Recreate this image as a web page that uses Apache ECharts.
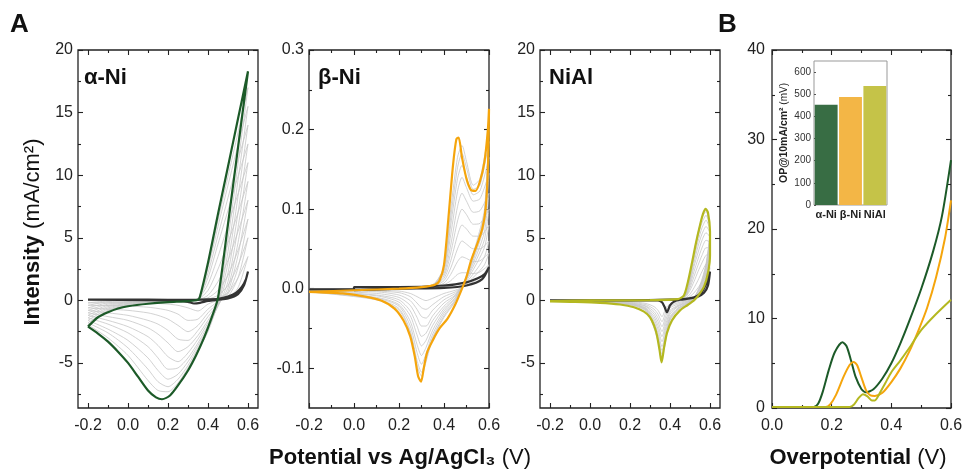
<!DOCTYPE html>
<html>
<head>
<meta charset="utf-8">
<script src="https://cdn.jsdelivr.net/npm/echarts@6/dist/echarts.min.js"></script>
<style>html,body{margin:0;padding:0;background:#fff}#c{width:967px;height:472px}</style>
</head>
<body>
<div id="c"></div>
<script>
// ---------------- DATA ----------------
// Panel A1: alpha-Ni
const xF1 = [-0.2,-0.1,0.0,0.1,0.2,0.3,0.35,0.4,0.45,0.5,0.55,0.6];
const xR1 = [0.6,0.55,0.5,0.45,0.4,0.35,0.3,0.25,0.2,0.15,0.1,0.0,-0.1,-0.2];
const alphaGrayF = [
  [-0.2,-0.05,0,0,0,0,0,0.05,0.2,0.6,1.8,3.5],
  [-0.4,-0.1,-0.05,0,0,0,0.02,0.1,0.4,1.2,2.8,5.0],
  [-0.6,-0.2,-0.1,-0.05,0,0,0.05,0.2,0.8,2.0,4.0,6.5],
  [-0.8,-0.3,-0.15,-0.08,-0.03,0,0.05,0.4,1.5,3.2,5.5,8.0],
  [-1.0,-0.4,-0.2,-0.1,-0.05,0,0.08,0.8,2.5,4.6,7.0,9.5],
  [-1.2,-0.5,-0.25,-0.12,-0.06,-0.02,0.1,1.3,3.5,6.0,8.5,11.0],
  [-1.4,-0.6,-0.3,-0.15,-0.07,-0.03,0.1,1.8,4.5,7.2,9.9,12.5],
  [-1.6,-0.7,-0.35,-0.18,-0.08,-0.04,0.1,2.2,5.2,8.2,11.2,14.0],
  [-1.8,-0.8,-0.4,-0.2,-0.1,-0.04,0.1,2.6,5.9,9.2,12.4,15.5],
  [-1.95,-0.85,-0.42,-0.22,-0.11,-0.05,0.1,2.8,6.4,9.9,13.4,17.0]
];
const alphaGrayR = [
  [3.5,1.0,0.2,0.0,-0.3,-0.85,-0.6,-0.4,-0.3,-0.25,-0.22,-0.2,-0.2,-0.2],
  [5.0,1.8,0.3,-0.1,-0.7,-1.5,-1.6,-1.1,-0.8,-0.65,-0.55,-0.45,-0.42,-0.4],
  [6.5,2.6,0.5,-0.2,-1.0,-2.0,-2.5,-2.0,-1.5,-1.2,-1.0,-0.8,-0.7,-0.6],
  [8.0,3.6,0.7,-0.3,-1.3,-2.4,-3.2,-3.1,-2.4,-1.9,-1.6,-1.2,-1.0,-0.8],
  [9.5,4.6,1.0,-0.4,-1.6,-2.8,-3.7,-4.1,-3.4,-2.7,-2.2,-1.6,-1.3,-1.0],
  [11.0,5.8,1.5,-0.5,-1.8,-3.1,-4.2,-4.9,-4.5,-3.6,-2.9,-2.1,-1.6,-1.2],
  [12.5,7.0,2.2,-0.4,-2.0,-3.4,-4.6,-5.4,-5.5,-4.6,-3.7,-2.6,-1.9,-1.4],
  [14.0,8.3,3.0,-0.3,-2.2,-3.6,-4.9,-5.9,-6.3,-5.6,-4.6,-3.2,-2.3,-1.6],
  [15.5,9.6,3.9,-0.2,-2.3,-3.8,-5.2,-6.3,-6.9,-6.5,-5.5,-3.8,-2.6,-1.8],
  [17.0,10.9,4.9,-0.1,-2.5,-4.0,-5.4,-6.6,-7.3,-7.2,-6.4,-4.4,-3.0,-1.95]
];
const alphaFirst = [[-0.2,0.05],[0.1,0.05],[0.3,0.04],[0.4,0.08],[0.45,0.12],[0.5,0.3],[0.54,0.6],[0.57,1.1],[0.59,1.7],[0.6,2.3],[0.58,1.2],[0.55,0.5],[0.5,0.15],[0.45,0.05],[0.4,-0.05],[0.36,-0.2],[0.33,-0.25],[0.3,-0.12],[0.25,-0.02],[0.1,0.02],[-0.2,0.05]];
const alphaLast = [[-0.2,-2.1],[-0.15,-1.35],[-0.1,-0.95],[-0.05,-0.65],[0,-0.47],[0.1,-0.27],[0.2,-0.14],[0.3,-0.06],[0.35,0.05],[0.36,0.3],[0.4,3.0],[0.45,6.9],[0.5,10.7],[0.55,14.5],[0.6,18.3],[0.55,12.2],[0.5,6.1],[0.45,0.2],[0.42,-1.3],[0.38,-3.0],[0.34,-4.4],[0.3,-5.6],[0.25,-6.8],[0.21,-7.6],[0.17,-7.9],[0.14,-7.75],[0.1,-7.2],[0.05,-6.1],[0,-5.0],[-0.05,-4.1],[-0.1,-3.3],[-0.15,-2.65],[-0.2,-2.1]];

// Panel A2: beta-Ni
const xF2 = [-0.2,0.0,0.2,0.35,0.4,0.43,0.46,0.48,0.5,0.53,0.56,0.6];
const xR2 = [0.6,0.58,0.55,0.5,0.45,0.4,0.35,0.32,0.3,0.28,0.25,0.2,0.1,-0.2];
const betaGrayF = [
  [0,0,0,0.002,0.005,0.01,0.018,0.02,0.02,0.019,0.021,0.03],
  [0,0,0,0.002,0.007,0.018,0.034,0.04,0.038,0.034,0.035,0.045],
  [0,0,0,0.003,0.01,0.026,0.05,0.06,0.056,0.05,0.05,0.06],
  [-0.001,0,0,0.003,0.013,0.035,0.067,0.08,0.075,0.066,0.066,0.08],
  [-0.002,-0.001,0,0.003,0.016,0.045,0.085,0.1,0.093,0.081,0.082,0.1],
  [-0.002,-0.001,0,0.004,0.019,0.055,0.103,0.12,0.11,0.096,0.098,0.12],
  [-0.003,-0.001,0,0.004,0.022,0.068,0.122,0.14,0.127,0.11,0.113,0.145],
  [-0.003,-0.002,0,0.004,0.025,0.08,0.138,0.155,0.14,0.118,0.123,0.165],
  [-0.003,-0.002,0,0.005,0.027,0.09,0.152,0.17,0.152,0.125,0.13,0.185],
  [-0.004,-0.002,0,0.005,0.028,0.1,0.165,0.18,0.16,0.13,0.138,0.2]
];
const betaGrayR = [
  [0.03,0.02,0.012,0.004,-0.002,-0.006,-0.012,-0.015,-0.013,-0.01,-0.006,-0.003,-0.002,-0.001],
  [0.045,0.03,0.02,0.006,-0.004,-0.01,-0.02,-0.026,-0.024,-0.018,-0.01,-0.005,-0.003,-0.001],
  [0.06,0.04,0.026,0.008,-0.006,-0.014,-0.027,-0.037,-0.035,-0.026,-0.015,-0.008,-0.004,-0.002],
  [0.08,0.052,0.034,0.01,-0.008,-0.018,-0.034,-0.047,-0.047,-0.036,-0.021,-0.011,-0.006,-0.002],
  [0.1,0.062,0.04,0.012,-0.009,-0.022,-0.04,-0.056,-0.06,-0.047,-0.028,-0.014,-0.008,-0.002],
  [0.12,0.072,0.046,0.013,-0.011,-0.025,-0.046,-0.065,-0.072,-0.058,-0.034,-0.017,-0.009,-0.003],
  [0.145,0.082,0.052,0.014,-0.012,-0.028,-0.052,-0.074,-0.084,-0.07,-0.041,-0.02,-0.011,-0.003],
  [0.165,0.09,0.056,0.015,-0.014,-0.031,-0.057,-0.082,-0.095,-0.08,-0.047,-0.022,-0.012,-0.003],
  [0.185,0.095,0.06,0.016,-0.015,-0.034,-0.061,-0.088,-0.105,-0.09,-0.053,-0.025,-0.013,-0.004],
  [0.2,0.1,0.064,0.017,-0.016,-0.036,-0.063,-0.092,-0.11,-0.096,-0.056,-0.027,-0.014,-0.004]
];
const betaFirst = [[-0.2,-0.001],[0.0,-0.001],[0.0,0.002],[0.2,0.002],[0.4,0.004],[0.5,0.008],[0.55,0.013],[0.58,0.018],[0.6,0.027],[0.57,0.012],[0.5,0.004],[0.4,0.001],[0.2,0.0],[0.0,-0.002]];
const betaLast = [[-0.2,-0.004],[0.0,-0.002],[0.2,0.0],[0.3,0.002],[0.36,0.005],[0.38,0.01],[0.4,0.03],[0.42,0.09],[0.44,0.155],[0.455,0.188],[0.465,0.19],[0.48,0.165],[0.5,0.138],[0.52,0.124],[0.54,0.123],[0.56,0.135],[0.58,0.16],[0.595,0.2],[0.6,0.226],[0.595,0.15],[0.585,0.1],[0.57,0.075],[0.55,0.058],[0.52,0.035],[0.5,0.015],[0.48,0.0],[0.45,-0.02],[0.415,-0.038],[0.38,-0.05],[0.35,-0.065],[0.325,-0.08],[0.31,-0.1],[0.298,-0.117],[0.285,-0.11],[0.27,-0.085],[0.25,-0.06],[0.22,-0.04],[0.18,-0.025],[0.12,-0.015],[0.05,-0.01],[-0.05,-0.006],[-0.2,-0.004]];

// Panel A3: NiAl
const xF3 = [-0.2,0.0,0.3,0.45,0.48,0.5,0.52,0.54,0.56,0.58,0.6];
const xR3 = [0.6,0.58,0.55,0.52,0.48,0.44,0.4,0.38,0.36,0.34,0.32,0.28,0.2,0.0,-0.2];
const nialGrayF = [
  [0,0,0,0.05,0.15,0.3,0.6,1.0,1.5,2.1,2.6],
  [0,0,0,0.05,0.2,0.5,1.0,1.6,2.3,2.9,3.2],
  [0,0,0,0.07,0.3,0.8,1.5,2.3,3.0,3.6,3.7],
  [-0.02,0,0,0.08,0.35,1.0,1.9,2.8,3.6,4.2,4.2],
  [-0.03,0,0.01,0.08,0.4,1.2,2.3,3.3,4.2,4.8,4.6],
  [-0.03,0,0.01,0.09,0.45,1.4,2.7,3.8,4.8,5.4,5.0],
  [-0.04,0,0.01,0.09,0.45,1.6,3.0,4.3,5.3,5.9,5.3],
  [-0.04,-0.01,0.01,0.1,0.48,1.7,3.3,4.7,5.8,6.4,5.5],
  [-0.05,-0.01,0.02,0.1,0.5,1.8,3.6,5.1,6.2,6.8,5.6],
  [-0.05,-0.01,0.02,0.1,0.5,1.9,3.8,5.4,6.6,7.1,5.6]
];
const nialGrayR = [
  [2.6,1.0,0.3,0.1,0,-0.1,-0.3,-0.6,-1.3,-0.8,-0.5,-0.25,-0.1,-0.03,0],
  [3.2,1.3,0.4,0.1,-0.05,-0.2,-0.45,-0.9,-1.7,-1.1,-0.7,-0.35,-0.15,-0.05,0],
  [3.7,1.6,0.5,0.1,-0.1,-0.3,-0.6,-1.2,-2.1,-1.4,-0.9,-0.45,-0.2,-0.06,-0.02],
  [4.2,1.9,0.6,0.1,-0.15,-0.4,-0.8,-1.5,-2.5,-1.7,-1.1,-0.5,-0.22,-0.08,-0.03],
  [4.6,2.1,0.7,0.1,-0.2,-0.45,-0.95,-1.8,-2.9,-2.0,-1.3,-0.6,-0.25,-0.1,-0.03],
  [5.0,2.3,0.8,0.15,-0.25,-0.5,-1.1,-2.1,-3.3,-2.3,-1.5,-0.65,-0.28,-0.12,-0.04],
  [5.3,2.5,0.9,0.15,-0.3,-0.6,-1.3,-2.4,-3.7,-2.6,-1.7,-0.7,-0.3,-0.13,-0.04],
  [5.5,2.7,1.0,0.2,-0.3,-0.65,-1.4,-2.7,-4.0,-2.9,-1.9,-0.75,-0.32,-0.15,-0.05],
  [5.6,2.8,1.1,0.2,-0.35,-0.7,-1.5,-2.9,-4.3,-3.1,-2.1,-0.8,-0.34,-0.16,-0.05],
  [5.6,2.9,1.2,0.2,-0.4,-0.75,-1.6,-3.1,-4.6,-3.3,-2.2,-0.85,-0.36,-0.17,-0.05]
];
const nialFirst = [[-0.2,0.0],[0.2,0.0],[0.4,0.05],[0.48,0.12],[0.53,0.3],[0.56,0.7],[0.58,1.3],[0.6,2.3],[0.59,1.2],[0.57,0.6],[0.54,0.3],[0.5,0.15],[0.45,0.05],[0.42,-0.1],[0.4,-0.4],[0.385,-0.95],[0.372,-0.5],[0.36,-0.15],[0.34,0.0],[0.2,0.0],[-0.2,0.0]];
const nialLast = [[-0.2,-0.05],[0.0,-0.01],[0.3,0.02],[0.44,0.1],[0.47,0.4],[0.49,1.5],[0.51,3.0],[0.53,4.6],[0.55,6.0],[0.565,6.9],[0.578,7.3],[0.59,7.0],[0.6,5.5],[0.6,3.6],[0.59,2.2],[0.57,1.1],[0.54,0.35],[0.52,0.0],[0.49,-0.35],[0.45,-0.8],[0.41,-1.6],[0.385,-2.6],[0.37,-3.8],[0.358,-4.95],[0.348,-4.0],[0.335,-2.8],[0.32,-2.0],[0.3,-1.35],[0.27,-0.9],[0.22,-0.55],[0.15,-0.33],[0.05,-0.2],[-0.1,-0.12],[-0.2,-0.08]];

// Panel B: overpotential curves
const lsvAlpha = [[0,0.1],[0.14,0.1],[0.155,0.5],[0.17,1.8],[0.19,4.2],[0.21,6.2],[0.236,7.35],[0.25,6.9],[0.265,5.3],[0.28,3.5],[0.3,2.1],[0.315,1.75],[0.34,2.1],[0.37,3.3],[0.4,5.0],[0.43,7.2],[0.46,9.7],[0.5,13.3],[0.54,17.5],[0.57,21.5],[0.6,27.7]];
const lsvBeta = [[0,0.1],[0.18,0.1],[0.195,0.4],[0.215,1.5],[0.24,3.5],[0.26,4.8],[0.273,5.15],[0.285,4.8],[0.3,3.4],[0.315,2.0],[0.33,1.4],[0.345,1.35],[0.37,1.7],[0.4,2.9],[0.43,4.4],[0.46,6.3],[0.49,8.6],[0.52,11.2],[0.55,14.6],[0.58,19.0],[0.6,23.2]];
const lsvNiAl = [[0,0.1],[0.26,0.1],[0.275,0.4],[0.29,1.1],[0.305,1.55],[0.32,1.3],[0.335,0.85],[0.345,0.85],[0.36,1.6],[0.38,2.8],[0.4,4.0],[0.43,5.3],[0.46,6.7],[0.5,8.7],[0.55,10.5],[0.6,12.1]];

// Inset bars
const insetCats = ['α-Ni','β-Ni','NiAl'];
const insetVals = [452, 487, 537];

// Tick values
const xMajA = [-0.2,0,0.2,0.4,0.6], xMinA = [-0.1,0.1,0.3,0.5];
const yMajAl = [-5,0,5,10,15,20], yMinAl = [-7.5,-2.5,2.5,7.5,12.5,17.5];
const yMajBe = [-0.1,0,0.1,0.2,0.3], yMinBe = [-0.05,0.05,0.15,0.25];
const xMajB = [0,0.2,0.4,0.6], xMinB = [0.1,0.3,0.5];
const yMajB = [0,10,20,30,40], yMinB = [5,15,25,35];
const yMajInset = [0,100,200,300,400,500,600];

// ---------------- BUILD ----------------
const FONT = 'Arial, "Liberation Sans", "DejaVu Sans", sans-serif';
const C_ALPHA = '#1c5a28', C_BETA = '#f5a50c', C_NIAL = '#b4b820', C_DARK = '#333333', C_GRAY = '#c6c6c6';
const grids = [], xAxes = [], yAxes = [], series = [];

function tickAx(base, vals, len, labelCfg) {
  return Object.assign({}, base, {
    axisTick: {show: true, inside: true, length: len, customValues: vals, lineStyle: {color: '#222', width: 1.1}},
    axisLabel: labelCfg ? Object.assign({customValues: vals}, labelCfg) : {show: false}
  });
}
function addPanel(box, xr, yr, xMaj, xMin, yMaj, yMin, xFmt, yFmt, yMargin) {
  grids.push({left: box[0], top: box[1], width: box[2], height: box[3], show: true, borderColor: '#222', borderWidth: 1.3, backgroundColor: 'transparent'});
  const gi = grids.length - 1;
  const xi = xAxes.length, yi = yAxes.length;
  const bx = {type: 'value', gridIndex: gi, min: xr[0], max: xr[1], splitLine: {show: false}, axisLine: {show: false, onZero: false}};
  const by = {type: 'value', gridIndex: gi, min: yr[0], max: yr[1], splitLine: {show: false}, axisLine: {show: false, onZero: false}};
  const lab = {fontSize: 16, color: '#222', fontFamily: FONT};
  xAxes.push(tickAx(Object.assign({position: 'bottom'}, bx), xMaj, 5, Object.assign({formatter: xFmt, margin: 10}, lab)));
  xAxes.push(tickAx(Object.assign({position: 'bottom'}, bx), xMin, 3));
  xAxes.push(tickAx(Object.assign({position: 'top'}, bx), xMaj, 5));
  xAxes.push(tickAx(Object.assign({position: 'top'}, bx), xMin, 3));
  yAxes.push(tickAx(Object.assign({position: 'left'}, by), yMaj, 5, Object.assign({formatter: yFmt, margin: yMargin}, lab)));
  yAxes.push(tickAx(Object.assign({position: 'left'}, by), yMin, 3));
  yAxes.push(tickAx(Object.assign({position: 'right'}, by), yMaj, 5));
  yAxes.push(tickAx(Object.assign({position: 'right'}, by), yMin, 3));
  return {xi, yi};
}
function line(ax, data, color, width, z) {
  series.push({type: 'line', xAxisIndex: ax.xi, yAxisIndex: ax.yi, data: data, showSymbol: false, symbol: 'none', smooth: 0.25, silent: true, z: z,
    lineStyle: {color: color, width: width}});
}
function cycle(xF, yF, xR, yR) {
  const d = [];
  xF.forEach((x, i) => d.push([x, yF[i]]));
  xR.forEach((x, i) => { if (i > 0) d.push([x, yR[i]]); });
  return d;
}
const f1 = v => v.toFixed(1);
const f0 = v => String(v);

const a1 = addPanel([78, 50, 180, 358], [-0.25, 0.65], [-8.6, 20], xMajA, xMinA, yMajAl, yMinAl, f1, f0, 5);
const a2 = addPanel([309, 50, 180, 358], [-0.2, 0.6], [-0.15, 0.3], xMajA, xMinA, yMajBe, yMinBe, f1, f1, 5);
const a3 = addPanel([540, 50, 180, 358], [-0.25, 0.65], [-8.6, 20], xMajA, xMinA, yMajAl, yMinAl, f1, f0, 5);
const b1 = addPanel([772, 50, 179, 358], [0, 0.6], [0, 40], xMajB, xMinB, yMajB, yMinB, f1, f0, 7);

alphaGrayF.forEach((f, i) => line(a1, cycle(xF1, f, xR1, alphaGrayR[i]), C_GRAY, 0.8, 2));
line(a1, alphaFirst, C_DARK, 2.2, 3);
line(a1, alphaLast, C_ALPHA, 2.2, 4);
betaGrayF.forEach((f, i) => line(a2, cycle(xF2, f, xR2, betaGrayR[i]), C_GRAY, 0.8, 2));
line(a2, betaFirst, C_DARK, 2.2, 3);
line(a2, betaLast, C_BETA, 2.2, 4);
nialGrayF.forEach((f, i) => line(a3, cycle(xF3, f, xR3, nialGrayR[i]), C_GRAY, 0.8, 2));
line(a3, nialFirst, C_DARK, 2.2, 3);
line(a3, nialLast, C_NIAL, 2.2, 4);
line(b1, lsvAlpha, C_ALPHA, 2, 3);
line(b1, lsvBeta, C_BETA, 2, 4);
line(b1, lsvNiAl, C_NIAL, 2, 5);

// inset
grids.push({left: 814, top: 61, width: 73, height: 144, show: true, borderColor: '#999', borderWidth: 1, backgroundColor: '#fff', z: 5});
const ig = grids.length - 1;
const ixi = xAxes.length, iyi = yAxes.length;
xAxes.push({type: 'category', gridIndex: ig, data: insetCats, z: 6, axisLine: {show: false, onZero: false}, axisTick: {show: false},
  axisLabel: {fontSize: 11, fontWeight: 'bold', color: '#222', fontFamily: FONT, margin: 4, interval: 0}});
yAxes.push({type: 'value', gridIndex: ig, min: 0, max: 650, z: 6, splitLine: {show: false}, axisLine: {show: false, onZero: false},
  axisTick: {show: true, inside: true, length: 2, customValues: yMajInset, lineStyle: {color: '#555'}},
  axisLabel: {customValues: yMajInset, fontSize: 10, color: '#333', fontFamily: FONT, margin: 3},
  name: '{b|OP@10mA/cm²} (mV)', nameLocation: 'middle', nameRotate: 90, nameGap: 24,
  nameTextStyle: {fontSize: 10, color: '#222', fontFamily: FONT, rich: {b: {fontSize: 10.5, fontWeight: 'bold', color: '#222', fontFamily: FONT}}}});
series.push({type: 'bar', xAxisIndex: ixi, yAxisIndex: iyi, z: 7, barCategoryGap: '6%', silent: true,
  data: insetVals.map((v, i) => ({value: v, itemStyle: {color: ['#386d44', '#f3b646', '#c5c348'][i]}}))});

const rich = {
  b: {fontSize: 22, fontWeight: 'bold', fontFamily: FONT, fill: '#111', color: '#111'},
  n: {fontSize: 22, fontFamily: FONT, fill: '#111', color: '#111'}
};
const graphic = [
  {type: 'text', left: 10, top: 12, style: {text: 'A', font: 'bold 26px ' + FONT, fill: '#111'}},
  {type: 'text', left: 718, top: 12, style: {text: 'B', font: 'bold 26px ' + FONT, fill: '#111'}},
  {type: 'text', left: 84, top: 67, style: {text: 'α-Ni', font: 'bold 22px ' + FONT, fill: '#111'}},
  {type: 'text', left: 318, top: 67, style: {text: 'β-Ni', font: 'bold 22px ' + FONT, fill: '#111'}},
  {type: 'text', left: 549, top: 67, style: {text: 'NiAl', font: 'bold 22px ' + FONT, fill: '#111'}},
  {type: 'text', x: 33, y: 232, rotation: Math.PI / 2, style: {text: '{b|Intensity}{n| (mA/cm²)}', rich: rich, align: 'center', verticalAlign: 'middle'}},
  {type: 'text', x: 400, y: 458, style: {text: '{b|Potential vs Ag/AgCl₃}{n| (V)}', rich: rich, align: 'center', verticalAlign: 'middle'}},
  {type: 'text', x: 858, y: 458, style: {text: '{b|Overpotential}{n| (V)}', rich: rich, align: 'center', verticalAlign: 'middle'}}
];

const chart = echarts.init(document.getElementById('c'), null, {renderer: 'canvas'});
chart.setOption({animation: false, backgroundColor: '#fff', grid: grids, xAxis: xAxes, yAxis: yAxes, series: series, graphic: graphic});
</script>
</body>
</html>
